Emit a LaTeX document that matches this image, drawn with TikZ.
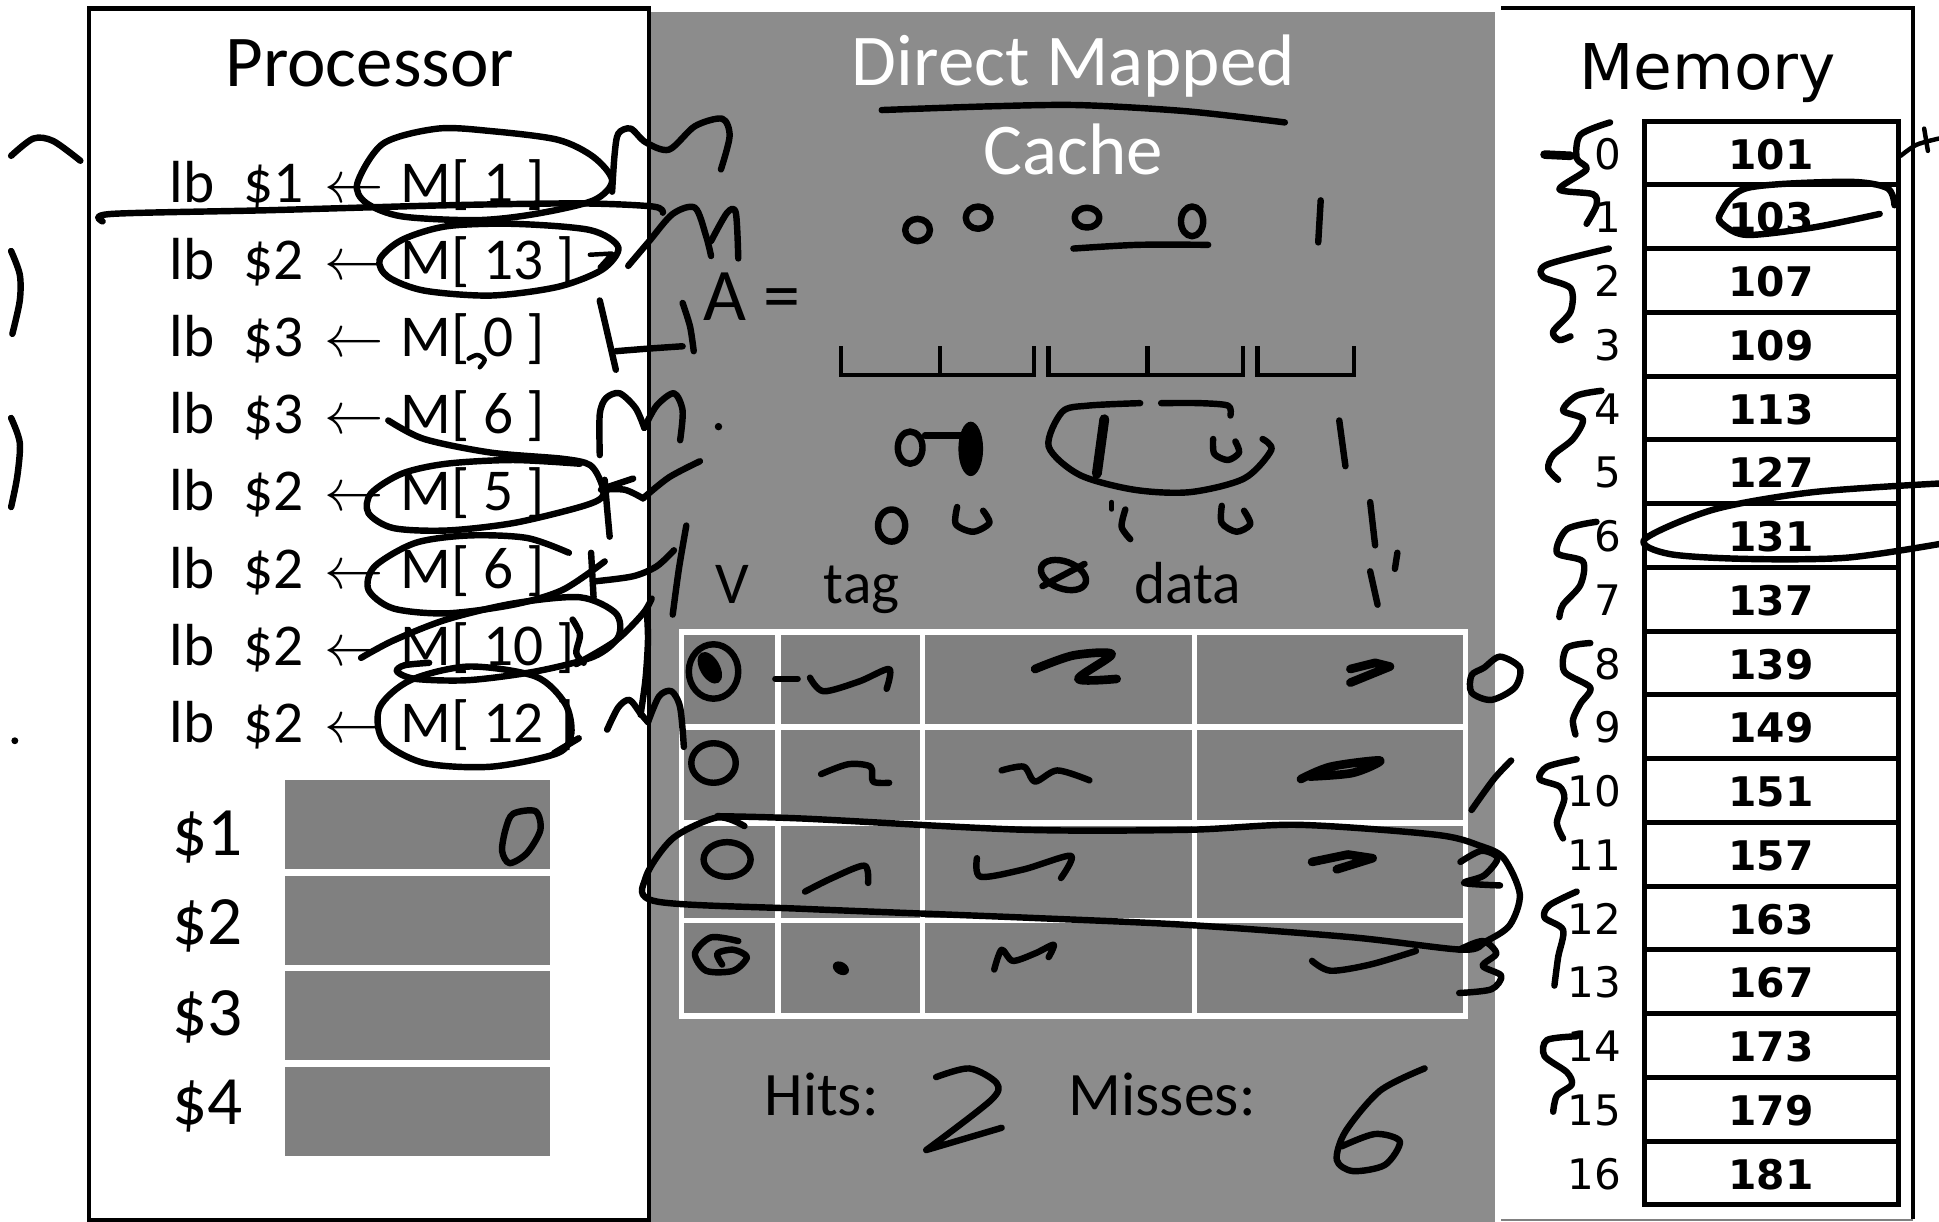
\documentclass[tikz,border=0pt]{standalone}
\usepackage{fix-cm}
\usepackage{fontspec}
\setmainfont{Carlito}
\newfontfamily\dvfont{DejaVu Sans}
\definecolor{panelgray}{RGB}{140,140,140}
\definecolor{cellgray}{RGB}{128,128,128}
\begin{document}
\begin{tikzpicture}[x=1pt,y=-1pt,
  hw/.style={line width=5.2pt,line cap=round,line join=round},
  hwt/.style={line width=3.6pt,line cap=round,line join=round},
  hwb/.style={line width=7pt,line cap=round,line join=round},
  boxline/.style={line width=3.5pt},
  instr/.style={font=\fontsize{48}{56}\selectfont,inner sep=0pt,anchor=base west},
  regl/.style={font=\fontsize{56}{64}\selectfont,inner sep=0pt,anchor=base west},
  title/.style={font=\fontsize{59}{68}\selectfont,inner sep=0pt,anchor=base},
  mid/.style={font=\fontsize{48}{56}\selectfont,inner sep=0pt,anchor=base west},
  memval/.style={font=\dvfont\bfseries\fontsize{33}{40}\selectfont,inner sep=0pt,anchor=base},
  memlbl/.style={font=\dvfont\fontsize{34}{40}\selectfont,inner sep=0pt,anchor=base east}]
\useasboundingbox (0,0) rectangle (1568,988);
\fill[white] (0,0) rectangle (1568,988);
% panels
\fill[panelgray] (525,9.6) rectangle (1209,988);
\draw[boxline] (72,7) rectangle (525,986.5);
\draw[boxline] (1214,6.5) -- (1547,6.5) -- (1547,986);
\draw[line width=1.5pt,gray] (1214,986.5) -- (1547,986.5);
% titles
\node[title] (ptitle) at (299,70) {Processor};
\node[title,text=white] (ctitle1) at (868,69) {Direct Mapped};
\node[title,text=white] (ctitle2) at (868,141) {Cache};
\node[font=\dvfont\fontsize{51}{60}\selectfont,inner sep=0pt,anchor=base] (mtitle) at (1381,72) {Memory};
% instructions
\foreach \r/\m [count=\i from 0] in {1/1,2/13,3/0,3/6,2/5,2/6,2/10,2/12}{
  \pgfmathsetmacro{\yb}{164+62.3*\i}
  \node[instr] (lb\i) at (137,\yb) {lb};
  \node[instr] (reg\i) at (197,\yb) {\$\r};
  \node[instr] (arr\i) at (262,\yb) {$\leftarrow$};
  \node[instr] (mem\i) at (324,\yb) {M[ \m\ ]};
}
% registers
\foreach \y/\b [count=\i] in {631/692,708/764,785.5/837,863/909}{
  \node[regl] (rl\i) at (139,\b) {\$\i};
  \fill[cellgray] (230.5,\y) rectangle (445,\y+72);
}
% cache area text
\node[font=\fontsize{60}{68}\selectfont,inner sep=0pt,anchor=base west] (aeq) at (569,259) {A =};
\node[mid] (hv) at (578,488) {V};
\node[mid] (htag) at (666,488) {tag};
\node[mid] (hdata) at (917,488) {data};
\node[font=\fontsize{50}{58}\selectfont,inner sep=0pt,anchor=base west] (hits) at (618,902) {Hits:};
\node[font=\fontsize{50}{58}\selectfont,inner sep=0pt,anchor=base west] (miss) at (864,902) {Misses:};
% table
\foreach \xa/\xb in {551/629,629/746,746/966,966/1185}{
  \foreach \ya/\yb in {511/588,588/665.5,665.5/744.5,744.5/821.5}{
    \filldraw[fill=cellgray,draw=white,line width=4.5pt] (\xa,\ya) rectangle (\xb,\yb);
  }
}
% memory column
\foreach \v [count=\i from 0] in {101,103,107,109,113,127,131,137,139,149,151,157,163,167,173,179,181}{
  \pgfmathsetmacro{\ya}{98+51.55*\i}
  \pgfmathsetmacro{\yc}{\ya+25.8}
  \draw[line width=4pt] (1329.6,\ya) rectangle (1535,\ya+51.55);
  \node[memval] (mv\i) at (1432,\yc+13) {\v};
  \node[memlbl] (ml\i) at (1311,\yc+13) {\i};
}
% ---------- handwriting ----------
% left margin
\draw[hw] plot[smooth] coordinates {(9,126) (27,112) (43,114) (65,130)};
\draw[hw] plot[smooth] coordinates {(9,203) (16,222) (16,243) (10,270)};
\draw[hw] plot[smooth] coordinates {(9,338) (16,358) (14,385) (9,410)};
\fill (12,599) circle (2.8pt);
% strike through row 1
\draw[hw] plot[smooth] coordinates {(83,179) (90,173) (217,170) (361,166) (469,164.5) (528,167) (536,172)};
% row 1
\draw[hw] plot[smooth cycle] coordinates {(289,148) (310,116) (354,104) (397,106) (451,113) (480,127) (495,146) (480,162) (433,173) (386,178) (325,175) (296,164)};
\draw[hw] plot[smooth] coordinates {(495,155) (497,125) (500,108) (510,104) (522,115) (541,121) (562,102) (584,96) (590,110) (583,137)};
% row 2
\draw[hw] plot[smooth cycle] coordinates {(307,210) (325,194) (361,183) (415,181) (477,186) (500,200) (487,218) (451,232) (397,239) (343,235) (314,224)};
\draw[hwt] (477,206) -- (495,205) -- (485,216);
\draw[hw] plot[smooth] coordinates {(508,215) (525,195) (544,173) (562,168) (571,191) (575,207)};
\draw[hw] plot[smooth] coordinates {(575,195) (588,172) (595,172) (597,209)};
% row 3
\draw[hwt] plot[smooth] coordinates {(379,290) (386,287) (392,291) (388,297)};
\draw[hw] plot[smooth] coordinates {(485,243) (489,260) (495,286) (498,299)};
\draw[hw] plot[smooth] coordinates {(498,284) (523,282) (552,280)};
\draw[hw] plot[smooth] coordinates {(552,245) (558,264) (561,284)};
% row 4
\draw[hw] plot[smooth] coordinates {(485,368) (485,335) (490,322) (501,318) (514,330) (521,346)};
\draw[hw] plot[smooth] coordinates {(521,346) (531,328) (545,318) (552,332) (550,356)};
\fill (581,345) circle (3pt);
% row 4-5 loop
\draw[hw] plot[smooth] coordinates {(314,340) (343,355) (397,366) (455,371) (477,376) (486,390) (487,402) (469,410) (415,423) (361,429) (318,427) (298,415) (300,399) (325,383) (361,375) (415,372) (469,375)};
\draw[hw] (489,388) -- (491,412) -- (493,434);
\draw[hw] plot[smooth] coordinates {(486,396) (505,396) (520,403)};
\draw[hw] (491,394) -- (512,387);
\draw[hw] plot[smooth] coordinates {(520,403) (541,386) (566,373)};
% row 6
\draw[hw] plot[smooth] coordinates {(460,447) (426,435) (379,433) (336,439) (303,458) (298,477) (318,492) (361,496) (415,489) (455,477) (489,454)};
\draw[hw] (478,447) -- (480,483);
\draw[hw] plot[smooth] coordinates {(482,470) (512,466) (531,458) (545,445)};
\draw[hw] plot[smooth] coordinates {(555,425) (549,460) (544,497)};
% row 7
\draw[hw] plot[smooth] coordinates {(292,532) (318,518) (361,501) (415,488) (469,483) (498,496) (500,515) (480,531) (433,543) (379,550) (336,549) (321,543) (327,538) (347,536)};
\draw[hw] plot[smooth] coordinates {(463,501) (469,513) (466,528) (472,536)};
\draw[hw] plot[smooth] coordinates {(466,537) (498,518) (520,496) (527,484)};
\draw[hw] plot[smooth] coordinates {(523,494) (524,517) (522,549) (518,578)};
% row 8
\draw[hw] plot[smooth cycle] coordinates {(332,550) (379,539) (433,547) (457,569) (462,593) (451,609) (397,620) (343,617) (310,599) (307,572)};
\draw[hw] (448,609) -- (468,597);
\draw[hw] plot[smooth] coordinates {(491,590) (500,572) (509,566) (518,577) (524,584)};
\draw[hw] plot[smooth] coordinates {(524,584) (533,563) (543,559) (550,572) (553,604)};
% register $1
\draw[hw] plot[smooth cycle] coordinates {(415,658) (433,656) (437,671) (426,690) (412,698) (406,688) (409,670)};
% title underline
\draw[hw] plot[smooth] coordinates {(713,89) (800,86) (873,85) (960,90) (1039,99)};
% bits above
\draw[hw] (742,186) ellipse [x radius=10pt,y radius=9pt];
\draw[hw] (791,176) ellipse [x radius=10pt,y radius=9pt];
\draw[hw] (879,176) ellipse [x radius=10pt,y radius=8pt];
\draw[hw] plot[smooth] coordinates {(868,201) (920,198) (977,198)};
\draw[hw] (964,179) ellipse [x radius=9pt,y radius=12pt];
\draw[hw] (1068,162) -- (1066,196);
% brackets
\draw[boxline] (680,280) -- (680,303) -- (836,303) -- (836,280);
\draw[boxline] (760,280) -- (760,303);
\draw[boxline] (848,280) -- (848,303) -- (1005,303) -- (1005,280);
\draw[boxline] (928,280) -- (928,303);
\draw[boxline] (1017,280) -- (1017,303) -- (1095,303) -- (1095,280);
% row under brackets
\draw[hw] (736,362) ellipse [x radius=10pt,y radius=13pt];
\draw[hw] (748,352) -- (784,352);
\fill (785,363) ellipse [x radius=10pt,y radius=22pt];
\draw[hw] plot[smooth] coordinates {(922,326) (880,328) (859,333) (848,361) (873,384) (917,396) (962,398) (1006,387) (1028,364) (1021,355)};
\draw[hw] plot[smooth] coordinates {(939,326) (970,326) (993,328) (995,336)};
\draw[line width=8pt,line cap=round] (893,339) -- (887,383);
\draw[hw] plot[smooth] coordinates {(981,355) (982,367) (993,372) (1002,366) (999,357)};
\draw[hw] (1083,340) -- (1088,377);
% next row
\draw[hw] (721,425) ellipse [x radius=11pt,y radius=13pt];
\draw[hw] plot[smooth] coordinates {(774,410) (773,424) (787,430) (800,423) (795,413)};
\draw[hwt] (899,406) -- (899,412);
\draw[hw] plot[smooth] coordinates {(910,412) (907,426) (914,436)};
\draw[hw] plot[smooth] coordinates {(988,409) (988,423) (1000,430) (1011,424) (1006,413)};
\draw[hw] (1108,406) -- (1112,441);
\draw[hw,rotate around={-20:(860,465)}] (860,465) ellipse [x radius=19pt,y radius=11pt];
\draw[hw] (843,474) -- (877,456);
\draw[hw] (1108,462) -- (1114,489);
\draw[hw] (1130,447) -- (1128,460);
% table row 1
\draw[hw] (577,543) ellipse [x radius=20pt,y radius=22pt];
\fill[rotate around={30:(574,540)}] (574,540) ellipse [x radius=8pt,y radius=14pt];
\draw[hw] (627,549) -- (645,549);
\draw[hw] plot[smooth] coordinates {(655,548) (666,559) (695,551) (719,541) (717,557)};
\draw[hwb] plot[smooth] coordinates {(837,541) (868,530) (899,529) (872,549) (903,549)};
\draw[hwb] plot coordinates {(1092,541) (1112,536) (1124,539) (1092,552)};
\draw[hw] plot[smooth cycle] coordinates {(1200,540) (1213,531) (1229,540) (1225,556) (1206,566) (1190,560) (1190,546)};
% table row 2
\draw[hw] (577,617) ellipse [x radius=18pt,y radius=16pt];
\draw[hw] plot[smooth] coordinates {(664,626) (686,618) (704,620) (706,632) (719,633)};
\draw[hw] plot[smooth] coordinates {(810,623) (828,620) (837,632) (855,623) (881,631)};
\draw[hwb] plot[smooth] coordinates {(1052,630) (1076,620) (1116,615) (1094,625) (1059,628)};
\draw[hw] plot[smooth] coordinates {(1190,655) (1208,630) (1222,615)};
% table row 3
\draw[hw] (588,695) ellipse [x radius=19pt,y radius=14pt];
\draw[hw] plot[smooth] coordinates {(651,721) (673,710) (699,700) (702,714)};
\draw[hw] plot[smooth] coordinates {(790,694) (793,709) (828,703) (866,692) (858,710)};
\draw[hwb] plot coordinates {(1061,697) (1090,691) (1110,694) (1081,703)};
\draw[hw] plot[smooth] coordinates {(602,668) (580,661) (544,678) (522,710) (531,729) (651,735) (828,742) (961,748) (1094,758) (1183,768) (1202,761) (1221,748) (1229,723) (1216,694) (1197,684) (1161,675) (1050,667) (961,671) (828,671) (651,662) (580,660)};
\draw[hw] plot[smooth] coordinates {(1181,697) (1198,688) (1211,694) (1200,708) (1184,714) (1213,716)};
\draw[hw] plot[smooth] coordinates {(1180,768) (1199,761) (1210,771) (1199,781) (1214,789) (1206,800) (1180,803)};
% table row 4
\draw[hw] plot[smooth] coordinates {(597,761) (575,758) (562,771) (571,785) (593,785) (604,774) (593,768) (580,771) (584,780)};
\fill[rotate around={-30:(680,783)}] (680,783) ellipse [x radius=7pt,y radius=5pt];
\draw[hw] plot[smooth] coordinates {(804,784) (810,768) (819,777) (837,771) (852,764) (848,774)};
\draw[hw] plot[smooth] coordinates {(1061,777) (1076,785) (1108,780) (1145,769)};
% hits / misses
\draw[hw] plot[smooth] coordinates {(757,871) (784,864) (806,876) (801,890) (749,930)} -- (810,912);
\draw[hw] plot[smooth] coordinates {(1152,864) (1116,882) (1088,915) (1081,938) (1094,947) (1120,942) (1132,923) (1112,917) (1085,927)};
% memory annotations
\draw[hwb] (1249,125) -- (1270,126);
\draw[hw] plot[smooth] coordinates {(1302,99) (1278,109) (1275,128) (1283,137) (1261,153) (1288,157) (1291,166) (1283,181)};
\draw[hw] plot[smooth] coordinates {(1520,173) (1466,184) (1413,190) (1394,182) (1391,173) (1413,152) (1493,147) (1526,152) (1532,166)};
\draw[hw] plot[smooth] coordinates {(1301,201) (1251,214) (1248,224) (1270,233) (1270,252) (1256,268) (1261,275) (1270,272)};
\draw[hw] plot[smooth] coordinates {(1295,316) (1275,320) (1264,332) (1280,339) (1272,355) (1256,368) (1252,379) (1260,388)};
\draw[hw] plot[smooth] coordinates {(1568,391) (1466,398) (1386,412) (1330,436) (1350,448) (1413,452) (1493,451) (1568,440)};
\draw[hw] plot[smooth] coordinates {(1291,422) (1267,428) (1259,447) (1280,454) (1278,473) (1264,489) (1261,499)};
\draw[hw] plot[smooth] coordinates {(1286,520) (1267,524) (1265,543) (1286,556) (1278,569) (1272,582) (1274,594)};
\draw[hw] plot[smooth] coordinates {(1275,614) (1251,620) (1245,630) (1261,636) (1265,646) (1259,665) (1264,678)};
\draw[hw] plot[smooth] coordinates {(1275,721) (1253,732) (1249,742) (1264,752) (1260,774) (1257,797)};
\draw[hw] plot[smooth] coordinates {(1275,838) (1251,841) (1249,854) (1267,867) (1271,877) (1259,886) (1256,899)};
\draw[hwt] plot[smooth] coordinates {(1537,126) (1550,117) (1568,112)};
\draw[hwt] (1556,104) -- (1559,122);
\end{tikzpicture}
\end{document}
